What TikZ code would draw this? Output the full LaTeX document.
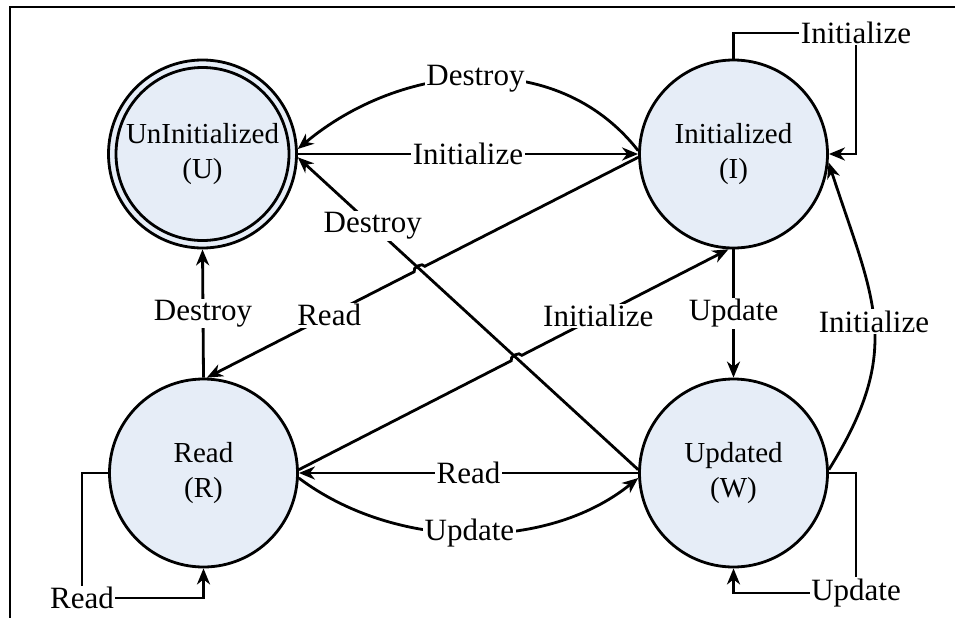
\documentclass[tikz,border=0pt]{standalone}
\usepackage{fontspec}
\setmainfont{Liberation Serif}
\usetikzlibrary{arrows.meta,calc}
\definecolor{statefill}{RGB}{230,237,247}
\begin{document}
\begin{tikzpicture}[x=1pt,y=-1pt,
  state/.style={circle,draw,line width=2.8pt,fill=statefill,minimum size=188pt,inner sep=0pt,outer sep=1.4pt,align=center,font=\fontsize{29}{35}\selectfont},
  conn/.style={line width=2.8pt,-{Stealth[length=16pt,width=13pt,inset=5pt]}},
  plain/.style={line width=2.8pt},
  lbl/.style={fill=white,inner sep=1.5pt,font=\fontsize{31}{37}\selectfont}
]
\useasboundingbox (0,0) rectangle (955,618);
% frame
\draw[plain] (955,7) -- (10,7) -- (10,618);
% states
\node[state] (U) at (202.5,154) {UnInitialized\\(U)};
\draw[line width=2.8pt] (U.center) circle (86.5);
\node[state] (I) at (733.5,154) {Initialized\\(I)};
\node[state] (R) at (203.5,473) {Read\\(R)};
\node[state] (W) at (733.5,473) {Updated\\(W)};
% crossing points
\coordinate (rdA) at (I.182);
\coordinate (rdB) at (R.88);
\coordinate (inA) at (R.2);
\coordinate (inB) at (I.-93);
\coordinate (dsA) at (W.178);
\coordinate (dsB) at (U.-2);
\coordinate (X1) at (intersection of rdA--rdB and dsA--dsB);
\coordinate (X2) at (intersection of inA--inB and dsA--dsB);
% I -> U destroy (curve)
\draw[conn] (I.178) to[out=128,in=40] node[lbl,pos=0.5]{Destroy} (U.3);
% U -> I initialize
\draw[conn] (U.east) -- node[lbl]{Initialize} (I.west);
% W -> U destroy (diagonal)
\draw[conn] (dsA) -- node[lbl,pos=0.78]{Destroy} (dsB);
% I -> R read with hop
\draw[conn] (rdA) -- ($(X1)!6pt!(rdA)$) to[bend right=90] ($(X1)!6pt!(rdB)$) -- node[lbl,pos=0.41]{Read} (rdB);
% R -> I initialize with hop
\draw[conn] (inA) -- ($(X2)!6pt!(inA)$) to[bend left=90] ($(X2)!6pt!(inB)$) -- node[lbl,pos=0.37]{Initialize} (inB);
% R -> U destroy
\draw[conn] (R.north) -- node[lbl]{Destroy} (U.south);
% I -> W update
\draw[conn] (I.south) -- node[lbl]{Update} (W.north);
% W -> I initialize (curve)
\draw[conn] (W.2) to[out=58,in=-72,looseness=1.2] node[lbl,pos=0.5]{Initialize} (I.-5);
% W -> R read
\draw[conn] (W.west) -- node[lbl]{Read} (R.east);
% R -> W update (curve)
\draw[conn] (R.-3) to[out=-37,in=-141,looseness=0.9] node[lbl,pos=0.5]{Update} (W.183);
% self loops
\coordinate (rl) at (82,598);
\draw[conn] (R.west) -| (rl) -| (R.south);
\node[lbl] (rlab) at (rl) {Read};
\coordinate (wl) at (856,593);
\draw[conn] (W.east) -| (wl) -| (W.south);
\node[lbl] (wlab) at (wl) {Update};
\coordinate (il) at (856,33);
\draw[conn] (I.north) |- (il) |- (I.east);
\node[lbl] (ilab) at (il) {Initialize};
\end{tikzpicture}
\end{document}
